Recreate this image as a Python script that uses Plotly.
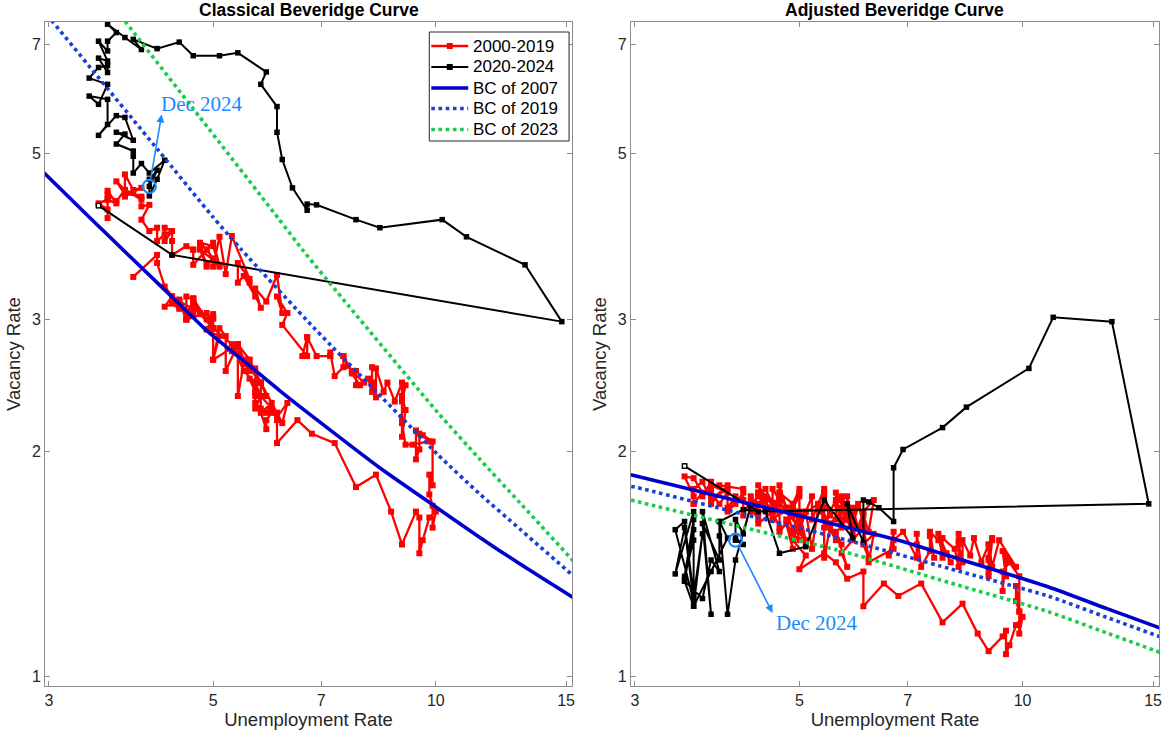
import math
import plotly.graph_objects as go

# ---------------- data ----------------
# Unemployment rate, Dec 2000 - Dec 2019
u_red = [3.9,
 4.2,4.2,4.3,4.4,4.3,4.5,4.6,4.9,5.0,5.3,5.5,5.7,
 5.7,5.7,5.7,5.9,5.8,5.8,5.8,5.7,5.7,5.7,5.9,6.0,
 5.8,5.9,5.9,6.0,6.1,6.3,6.2,6.1,6.1,6.0,5.8,5.7,
 5.7,5.6,5.8,5.6,5.6,5.6,5.5,5.4,5.4,5.5,5.4,5.4,
 5.3,5.4,5.2,5.2,5.1,5.0,5.0,4.9,5.0,5.0,5.0,4.9,
 4.7,4.8,4.7,4.7,4.6,4.6,4.7,4.7,4.5,4.4,4.5,4.4,
 4.6,4.5,4.4,4.5,4.4,4.6,4.7,4.6,4.7,4.7,4.7,5.0,
 5.0,4.9,5.1,5.0,5.4,5.6,5.8,6.1,6.1,6.5,6.8,7.3,
 7.8,8.3,8.7,9.0,9.4,9.5,9.5,9.6,9.8,10.0,9.9,9.9,
 9.8,9.8,9.9,9.9,9.6,9.4,9.4,9.5,9.5,9.4,9.8,9.3,
 9.1,9.0,9.0,9.1,9.0,9.1,9.0,9.0,9.0,8.8,8.6,8.5,
 8.3,8.3,8.2,8.2,8.2,8.2,8.2,8.1,7.8,7.8,7.7,7.9,
 8.0,7.7,7.5,7.6,7.5,7.5,7.3,7.2,7.2,7.2,6.9,6.7,
 6.6,6.7,6.7,6.2,6.3,6.1,6.2,6.1,5.9,5.7,5.8,5.6,
 5.7,5.5,5.4,5.4,5.6,5.3,5.2,5.1,5.0,5.0,5.1,5.0,
 4.8,4.9,5.0,5.1,4.8,4.9,4.8,4.9,5.0,4.9,4.7,4.7,
 4.7,4.6,4.4,4.4,4.4,4.3,4.3,4.4,4.3,4.2,4.2,4.1,
 4.0,4.1,4.0,4.0,3.8,4.0,3.8,3.8,3.7,3.8,3.8,3.9,
 4.0,3.8,3.8,3.7,3.6,3.6,3.7,3.6,3.5,3.6,3.6,3.6]

# Vacancy rate (classical), Dec 2000 - Dec 2019
v_red_classic = [3.42,
 3.66,3.57,3.32,3.22,3.12,3.17,3.00,3.06,2.92,2.78,2.56,2.47,
 2.58,2.47,2.37,2.37,2.47,2.28,2.37,2.28,2.40,2.32,2.25,2.32,
 2.25,2.14,2.20,2.25,2.22,2.32,2.18,2.25,2.20,2.28,2.37,2.47,
 2.40,2.50,2.47,2.58,2.65,2.56,2.62,2.37,2.70,2.65,2.78,2.75,
 2.72,2.78,2.56,2.85,2.92,2.65,3.01,2.91,3.01,2.92,3.05,3.00,
 3.20,3.06,3.16,3.19,3.22,3.00,3.20,3.10,3.17,3.22,3.12,3.20,
 3.05,3.19,3.15,3.10,3.22,3.06,3.16,3.00,3.20,3.05,3.12,2.92,
 3.01,2.91,2.85,2.65,2.78,2.65,2.47,2.25,2.05,2.20,2.11,2.05,
 1.79,1.86,1.66,1.50,1.66,1.63,1.46,1.52,1.63,1.66,1.58,1.69,
 1.75,1.86,1.80,2.06,2.10,2.13,1.95,2.01,2.11,2.13,2.06,2.04,
 2.04,2.18,2.09,2.27,2.37,2.45,2.33,2.20,2.47,2.33,2.47,2.40,
 2.58,2.36,2.47,2.59,2.45,2.47,2.40,2.50,2.45,2.56,2.54,2.45,
 2.47,2.56,2.68,2.60,2.68,2.59,2.52,2.71,2.68,2.68,2.68,2.84,
 2.68,2.84,2.68,2.95,3.06,3.22,3.06,3.44,3.17,3.30,3.11,3.36,
 3.22,3.43,3.36,3.57,3.40,3.88,3.45,3.87,3.53,3.60,3.53,3.76,
 3.80,3.72,3.80,3.55,3.72,3.53,3.76,3.55,3.62,3.72,3.55,3.72,
 3.72,3.76,3.66,3.82,3.94,3.82,3.98,3.94,3.90,3.82,3.98,3.94,
 4.08,4.27,4.25,4.34,4.47,4.38,4.42,4.47,4.59,4.41,4.69,4.47,
 4.50,4.38,4.47,4.32,4.41,4.46,4.29,4.34,4.29,4.21,4.34,4.10]

# Vacancy rate (adjusted), Dec 2000 - Dec 2019
v_red_adjusted = [1.80,
 1.78,1.72,1.68,1.75,1.66,1.72,1.62,1.70,1.63,1.70,1.60,1.66,
 1.72,1.60,1.68,1.58,1.74,1.62,1.70,1.58,1.66,1.72,1.60,1.68,
 1.62,1.55,1.68,1.58,1.66,1.72,1.56,1.64,1.60,1.70,1.62,1.74,
 1.60,1.70,1.64,1.76,1.62,1.72,1.66,1.58,1.75,1.64,1.76,1.68,
 1.70,1.78,1.62,1.74,1.66,1.58,1.76,1.68,1.74,1.64,1.78,1.70,
 1.76,1.68,1.80,1.72,1.78,1.66,1.76,1.70,1.74,1.80,1.68,1.76,
 1.70,1.78,1.74,1.68,1.76,1.66,1.72,1.62,1.74,1.66,1.70,1.58,
 1.62,1.52,1.45,1.39,1.46,1.42,1.35,1.38,1.24,1.33,1.28,1.33,
 1.18,1.25,1.14,1.08,1.13,1.15,1.07,1.10,1.17,1.20,1.14,1.22,
 1.26,1.32,1.22,1.36,1.42,1.38,1.30,1.44,1.36,1.47,1.40,1.52,
 1.40,1.50,1.43,1.53,1.38,1.52,1.44,1.36,1.50,1.42,1.53,1.45,
 1.52,1.42,1.50,1.55,1.44,1.52,1.40,1.48,1.53,1.44,1.55,1.46,
 1.42,1.52,1.56,1.44,1.54,1.47,1.40,1.55,1.50,1.44,1.56,1.52,
 1.45,1.56,1.48,1.42,1.55,1.50,1.44,1.58,1.52,1.46,1.40,1.56,
 1.50,1.58,1.44,1.62,1.52,1.68,1.48,1.66,1.56,1.62,1.50,1.64,
 1.68,1.56,1.66,1.52,1.62,1.48,1.60,1.55,1.52,1.64,1.56,1.66,
 1.58,1.66,1.60,1.70,1.62,1.68,1.74,1.65,1.72,1.64,1.76,1.70,
 1.66,1.74,1.68,1.78,1.72,1.80,1.70,1.78,1.74,1.82,1.76,1.70,
 1.76,1.80,1.72,1.82,1.78,1.70,1.76,1.84,1.85,1.74,1.78,1.70]

# Unemployment rate, Jan 2020 - Dec 2024
u_black = [3.5,3.5,4.4,14.8,13.2,11.0,10.2,8.4,7.8,6.9,6.7,6.7,
 6.4,6.2,6.1,6.1,5.8,5.9,5.4,5.1,4.7,4.5,4.2,3.9,
 4.0,3.8,3.6,3.7,3.6,3.6,3.5,3.6,3.5,3.6,3.6,3.5,
 3.4,3.6,3.5,3.4,3.6,3.6,3.5,3.7,3.8,3.9,3.7,3.8,
 3.7,3.9,3.9,3.9,4.0,4.1,4.3,4.2,4.1,4.1,4.2,4.1]

v_black_classic = [4.26,4.26,3.66,2.98,3.55,3.87,4.08,3.98,4.08,4.27,4.28,4.20,
 4.50,4.91,5.34,5.78,6.19,6.43,6.82,6.76,6.76,7.05,6.91,7.11,
 6.89,7.15,7.45,7.26,7.07,6.86,7.07,6.65,6.71,6.42,6.56,6.52,
 6.31,6.19,5.82,5.97,5.91,5.47,5.29,5.62,5.59,5.21,5.34,5.31,
 5.15,5.04,4.96,4.71,4.85,4.71,4.90,4.62,4.39,4.62,4.75,4.52]

v_black_adjusted = [1.91,1.91,1.66,1.70,2.98,3.02,2.58,2.29,2.15,2.01,1.90,1.61,
 1.68,1.71,1.72,1.51,1.70,1.53,1.72,1.49,1.46,1.66,1.67,1.61,
 1.53,1.38,1.24,1.55,1.28,1.57,1.34,1.62,1.36,1.52,1.28,1.61,
 1.57,1.26,1.58,1.37,1.66,1.24,1.34,1.27,1.43,1.38,1.66,1.21,
 1.60,1.43,1.54,1.61,1.21,1.43,1.69,1.55,1.62,1.53,1.50,1.52]

# Beveridge curves
bc_u_classic_2007 = [2.9, 3.41, 4.0, 4.51, 4.89, 5.5, 6.15, 7.0, 8.47, 10.0, 11.43, 13.0, 15.4]
bc_v_classic_2007 = [4.80, 4.10, 3.52, 3.14, 2.906, 2.64, 2.41, 2.18, 1.888, 1.684, 1.536, 1.412, 1.27]
bc_u_classic_2019 = [2.9, 3.03, 4.21, 4.99, 5.46, 6.85, 8.3, 10.07, 11.43, 13.0, 15.4]
bc_v_classic_2019 = [7.93, 7.52, 5.06, 4.12, 3.72, 2.92, 2.405, 1.977, 1.757, 1.572, 1.357]
bc_u_classic_2023 = [3.7, 3.8, 4.8, 6.12, 6.63, 7.64, 10.07, 11.43, 13.0, 15.4]
bc_v_classic_2023 = [7.78, 7.52, 5.59, 4.10, 3.70, 3.12, 2.25, 1.957, 1.704, 1.42]

bc_u_adj_2007 = [2.9, 3.0, 4.2, 5.8, 6.8, 8.5, 10.82, 13.0, 15.4]
bc_v_adj_2007 = [1.868, 1.853, 1.709, 1.58, 1.52, 1.419, 1.317, 1.231, 1.158]
bc_u_adj_2019 = [2.9, 3.0, 4.2, 5.8, 8.0, 10.82, 13.0, 15.4]
bc_v_adj_2019 = [1.80, 1.79, 1.647, 1.52, 1.391, 1.28, 1.198, 1.127]
bc_u_adj_2023 = [2.9, 3.0, 4.2, 5.8, 8.0, 10.82, 13.0, 15.4]
bc_v_adj_2023 = [1.73, 1.715, 1.581, 1.463, 1.332, 1.22, 1.142, 1.074]

x_ticks = [3, 5, 7, 10, 15]
y_ticks = [1, 2, 3, 5, 7]
legend_labels = ["2000-2019", "2020-2024", "BC of 2007", "BC of 2019", "BC of 2023"]

# ---------------- figure ----------------
RED = "#ff0000"
BLACK = "#000000"
BLUE = "#0000cc"
BLUE2 = "#1a3fd6"
GREEN = "#19cc4a"
ANNOT = "#1a8cff"
SANS = "Liberation Sans, Arial, Helvetica, sans-serif"

series_styles = [
    dict(color=RED, width=2.3, dash="solid", marker=True),
    dict(color=BLACK, width=2.0, dash="solid", marker=True),
    dict(color=BLUE, width=3.6, dash="solid", marker=False),
    dict(color=BLUE2, width=3.6, dash="dot", marker=False),
    dict(color=GREEN, width=3.6, dash="dot", marker=False),
]

fig = go.Figure()

def add_panel(xa, ya, v_red, v_black, bcs):
    fig.add_trace(go.Scatter(x=u_red, y=v_red, mode="lines+markers", name=legend_labels[0],
                             line=dict(color=RED, width=2.3),
                             marker=dict(symbol="square", size=6, color=RED),
                             xaxis=xa, yaxis=ya, showlegend=False))
    fig.add_trace(go.Scatter(x=u_black, y=v_black, mode="lines+markers", name=legend_labels[1],
                             line=dict(color=BLACK, width=2),
                             marker=dict(symbol="square", size=5.5, color=BLACK),
                             xaxis=xa, yaxis=ya, showlegend=False))
    # first 2020 point drawn as an open square
    fig.add_trace(go.Scatter(x=[u_black[0]], y=[v_black[0]], mode="markers",
                             marker=dict(symbol="square", size=3, color="white"),
                             xaxis=xa, yaxis=ya, showlegend=False, hoverinfo="skip"))
    for (bu, bv), nm, st in zip(bcs, legend_labels[2:], series_styles[2:]):
        fig.add_trace(go.Scatter(x=bu, y=bv, mode="lines", name=nm,
                                 line=dict(color=st["color"], width=st["width"], dash=st["dash"],
                                           shape="spline", smoothing=0.6),
                                 xaxis=xa, yaxis=ya, showlegend=False))
    # Dec 2024 circle
    fig.add_trace(go.Scatter(x=[u_black[-1]], y=[v_black[-1]], mode="markers",
                             marker=dict(symbol="circle-open", size=13, color=ANNOT,
                                         line=dict(width=2.2, color=ANNOT)),
                             xaxis=xa, yaxis=ya, showlegend=False, hoverinfo="skip"))

add_panel("x", "y", v_red_classic, v_black_classic,
          [(bc_u_classic_2007, bc_v_classic_2007), (bc_u_classic_2019, bc_v_classic_2019),
           (bc_u_classic_2023, bc_v_classic_2023)])
add_panel("x2", "y2", v_red_adjusted, v_black_adjusted,
          [(bc_u_adj_2007, bc_v_adj_2007), (bc_u_adj_2019, bc_v_adj_2019),
           (bc_u_adj_2023, bc_v_adj_2023)])

L = math.log10
axis_common = dict(type="log", showline=True, mirror="ticks", linecolor="#8c8c8c", linewidth=1,
                   ticks="inside", ticklen=5, tickcolor="#8c8c8c", showgrid=False, zeroline=False,
                   tickfont=dict(family=SANS, size=16, color="#262626"))
xr = [L(2.963), L(15.28)]
yr = [L(0.97), L(7.5)]
ML, MR, MT, MB = 45, 13, 22, 54
PW = 1174 - ML - MR
PH = 740 - MT - MB
W_L = (573 - ML) / PW
X2_0 = (632 - ML) / PW
title_font = dict(family=SANS, size=18.5, color="#262626")

fig.update_layout(
    width=1174, height=740,
    margin=dict(l=ML, r=MR, t=MT, b=MB),
    paper_bgcolor="white", plot_bgcolor="white",
    xaxis=dict(domain=[0, W_L], range=xr, tickvals=x_ticks, ticktext=[str(t) for t in x_ticks],
               title=dict(text="Unemployment Rate", font=title_font, standoff=3), anchor="y", **axis_common),
    yaxis=dict(domain=[0, 1], range=yr, tickvals=y_ticks, ticktext=[str(t) for t in y_ticks],
               title=dict(text="Vacancy Rate", font=title_font, standoff=6), anchor="x", **axis_common),
    xaxis2=dict(domain=[X2_0, 1], range=xr, tickvals=x_ticks, ticktext=[str(t) for t in x_ticks],
                title=dict(text="Unemployment Rate", font=title_font, standoff=3), anchor="y2", **axis_common),
    yaxis2=dict(domain=[0, 1], range=yr, tickvals=y_ticks, ticktext=[str(t) for t in y_ticks],
                title=dict(text="Vacancy Rate", font=title_font, standoff=6), anchor="x2", **axis_common),
    showlegend=False,
)

def px_x(px):
    return (px - ML) / PW

def px_y(py):
    return (740 - MB - py) / PH

annots = []
shapes = []
for xd, ttl in [("x domain", "Classical Beveridge Curve"), ("x2 domain", "Adjusted Beveridge Curve")]:
    annots.append(dict(xref=xd, yref="paper", x=0.5, y=1, yanchor="bottom", xanchor="center",
                       text="<b>" + ttl + "</b>", showarrow=False, yshift=0,
                       font=dict(family=SANS, size=17.5, color="#000000")))

# legend box (drawn inside the left panel)
LB = dict(x0=430, x1=570, y0=32, y1=141)
shapes.append(dict(type="rect", xref="paper", yref="paper", x0=px_x(LB["x0"]), x1=px_x(LB["x1"]),
                   y0=px_y(LB["y1"]), y1=px_y(LB["y0"]), fillcolor="white",
                   line=dict(color="#262626", width=1), layer="above"))
row_y = [46, 67, 88, 108.5, 129.5]
for lab, st, ry in zip(legend_labels, series_styles, row_y):
    shapes.append(dict(type="line", xref="paper", yref="paper", x0=px_x(432), x1=px_x(469),
                       y0=px_y(ry), y1=px_y(ry),
                       line=dict(color=st["color"], width=st["width"], dash=st["dash"]), layer="above"))
    if st["marker"]:
        s = 3
        shapes.append(dict(type="rect", xref="paper", yref="paper", x0=px_x(450.5 - s), x1=px_x(450.5 + s),
                           y0=px_y(ry + s), y1=px_y(ry - s), fillcolor=st["color"],
                           line=dict(color=st["color"], width=0), layer="above"))
    annots.append(dict(xref="paper", yref="paper", x=px_x(472), y=px_y(ry), xanchor="left", yanchor="middle",
                       text=lab, showarrow=False, font=dict(family=SANS, size=17, color="#000000")))

# Dec 2024 annotations (arrow from circle to label)
serif = dict(family="Liberation Serif, Times New Roman, serif", size=21, color=ANNOT)
annots.append(dict(xref="x", yref="y", x=L(4.26), y=L(5.64), ax=L(u_black[-1]), ay=L(v_black_classic[-1]),
                   axref="x", ayref="y", text="", showarrow=True, arrowhead=2, arrowsize=1,
                   arrowwidth=1.6, arrowcolor=ANNOT, startstandoff=6))
annots.append(dict(xref="x", yref="y", x=L(4.83), y=L(5.83), text="Dec 2024", showarrow=False, font=serif))
annots.append(dict(xref="x2", yref="y2", x=L(4.60), y=L(1.215), ax=L(u_black[-1]), ay=L(v_black_adjusted[-1]),
                   axref="x2", ayref="y2", text="", showarrow=True, arrowhead=2, arrowsize=1,
                   arrowwidth=1.6, arrowcolor=ANNOT, startstandoff=6))
annots.append(dict(xref="x2", yref="y2", x=L(5.28), y=L(1.179), text="Dec 2024", showarrow=False, font=serif))
fig.update_layout(annotations=annots, shapes=shapes)

fig.write_html("out.html")
